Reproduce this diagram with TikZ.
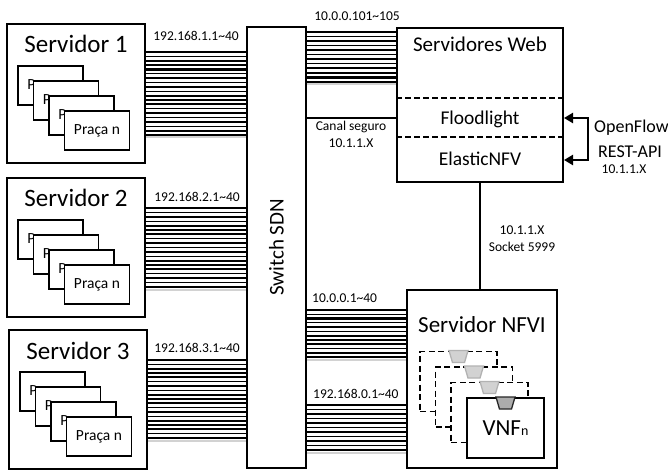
\documentclass[tikz,border=0pt]{standalone}
\usepackage{fontspec}
\setmainfont{Carlito}
\usetikzlibrary{arrows.meta, positioning, calc}

\tikzset{
  box/.style={draw, line width=2pt, fill=white, inner sep=0pt},
  praca/.style={draw, line width=1.8pt, fill=white, minimum width=65pt,
                minimum height=39pt, font=\fontsize{15.5}{17}\selectfont},
  vnfbox/.style={draw, line width=1.9pt, dash pattern=on 6pt off 3.5pt,
                 fill=white, minimum width=77pt, minimum height=60pt},
  title/.style={font=\fontsize{21}{24}\selectfont, inner sep=0pt},
  layer/.style={font=\fontsize{19.5}{22}\selectfont, inner sep=0pt},
  iplabel/.style={font=\fontsize{13.5}{15}\selectfont, inner sep=0pt},
  sidelabel/.style={font=\fontsize{18}{20}\selectfont, inner sep=0pt},
  sep/.style={line width=1.8pt, dash pattern=on 6pt off 3pt},
  ctrl/.style={line width=2.6pt, {Triangle[length=9pt,width=10pt]}-{Triangle[length=9pt,width=10pt]}},
}

% bundle of links: from node, to node, top y, bottom y, last index
\newcommand{\linkbus}[5]{%
  \draw[gray!35, line width=2pt] (#1.east |- 0,#4+2.5) -- (#2.west |- 0,#4+2.5);
  \foreach \i [evaluate=\i as \yy using {#3+\i*(#4-#3)/#5},
               evaluate=\i as \lw using {mod(\i,2)==0 ? 2.1 : 1.3}] in {0,...,#5}
    \draw[line width=\lw pt] (#1.east |- 0,\yy) -- (#2.west |- 0,\yy);
}
% port of a VNF
\newcommand{\vport}[2]{%
  \draw[#2, line width=1.3pt] ($(#1.north)+(-9.5,0)$) -- ++(19,0) -- ++(-3.5,12) -- ++(-12,0) -- cycle;
}

\begin{document}
\begin{tikzpicture}[x=1pt, y=-1pt]
  \useasboundingbox (0,0) rectangle (668,470);

  % servers on the left
  \foreach \n/\cx/\cy in {1/76/93.5, 2/76/247.5, 3/78/399.5} {
    \node[box, minimum width=138pt, minimum height=139pt] (srv\n) at (\cx,\cy) {};
    \node[title, font=\fontsize{25}{28}\selectfont, anchor=base] (srv\n-t) at ($(srv\n.north)+(0,30)$) {Servidor \n};
    \foreach \k in {0,...,3}
      \node[praca] (srv\n-p\k) at ($(srv\n.north west)+(44.5+15.5*\k,62.5+15*\k)$) {Praça n};
  }

  % switch
  \node[box, minimum width=59pt, minimum height=441pt] (sw) at (276.5,247.5) {};
  \node[title, rotate=90] (sw-t) at (sw) {Switch SDN};

  % web / controller
  \node[box, minimum width=166pt, minimum height=154pt] (web) at (480,105) {};
  \node[title, anchor=base] (web-t) at ($(web.north)+(0,25)$) {Servidores Web};
  \draw[sep] (web.west |- 0,98) -- (web.east |- 0,98);
  \draw[sep] (web.west |- 0,137) -- (web.east |- 0,137);
  \node[layer, anchor=base] (flood) at (web.north |- 0,125) {Floodlight};
  \node[layer, anchor=base] (elastic) at (web.north |- 0,166) {ElasticNFV};

  % NFVI server
  \node[box, minimum width=150pt, minimum height=178pt] (nfvi) at (482,379) {};
  \node[title, font=\fontsize{23}{26}\selectfont, anchor=base] (nfvi-t) at ($(nfvi.north)+(0,43)$) {Servidor NFVI};
  \foreach \k in {0,1,2} {
    \node[vnfbox] (vnf\k) at ($(nfvi.north west)+(52.5+15.5*\k,92.5+15.5*\k)$) {};
    \vport{vnf\k}{draw=gray!60, fill=gray!35}
  }
  \node[draw, line width=1.9pt, fill=white, minimum width=77pt, minimum height=60pt,
        font=\fontsize{23}{25}\selectfont] (vnfn) at ($(nfvi.north west)+(99.5,139)$)
        {VNF{\fontsize{14}{14}\selectfont n}};
  \vport{vnfn}{draw=black!85, fill=gray!65}

  % link bundles
  \linkbus{srv1}{sw}{52}{135}{19}
  \linkbus{srv2}{sw}{208}{287}{18}
  \linkbus{srv3}{sw}{360}{438}{18}
  \linkbus{sw}{web}{32}{82}{11}
  \linkbus{sw}{nfvi}{310}{357}{11}
  \linkbus{sw}{nfvi}{405}{450}{10}

  \node[iplabel] (ip1) at (196,36) {192.168.1.1\textasciitilde 40};
  \node[iplabel] (ip2) at (197,197) {192.168.2.1\textasciitilde 40};
  \node[iplabel] (ip3) at (197,348) {192.168.3.1\textasciitilde 40};
  \node[iplabel] (ipweb) at (357,16) {10.0.0.101\textasciitilde 105};
  \node[iplabel, anchor=west] (ipn1) at (312,298) {10.0.0.1\textasciitilde 40};
  \node[iplabel, anchor=west] (ipn2) at (313,394) {192.168.0.1\textasciitilde 40};

  % secure channel
  \draw[line width=1.8pt] (sw.east |- 0,118) -- (web.west |- 0,118);
  \node[iplabel] (canal) at (351,127) {Canal seguro};
  \node[iplabel] (canalip) at (351,143) {10.1.1.X};

  % socket link
  \draw[line width=1.9pt] (web.south) -- (web.south |- nfvi.north);
  \node[iplabel] (sock1) at (522,230) {10.1.1.X};
  \node[iplabel] (sock2) at (522,247) {Socket 5999};

  % OpenFlow / REST loop
  \coordinate (ctl) at (588,139);
  \draw[ctrl] (web.east |- 0,118) -| (ctl) |- (web.east |- 0,160);
  \node[sidelabel, anchor=west] (of) at (594,128) {OpenFlow};
  \node[sidelabel] (rest) at (630,152) {REST-API};
  \node[iplabel] (restip) at (624,169) {10.1.1.X};
\end{tikzpicture}
\end{document}
